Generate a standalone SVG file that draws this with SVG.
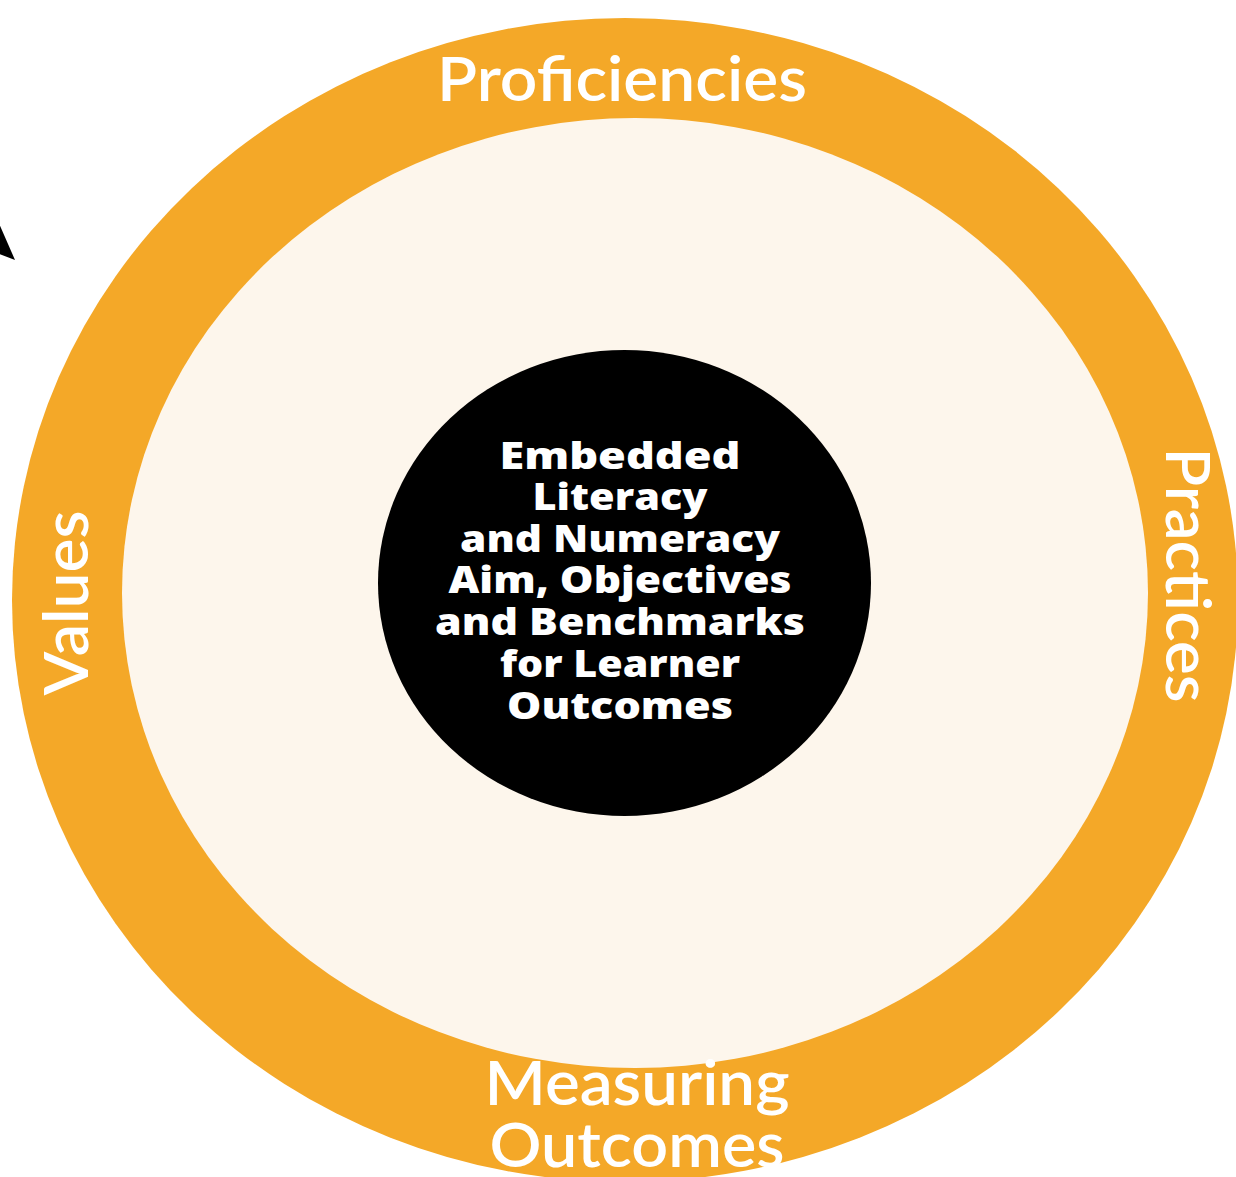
<svg xmlns="http://www.w3.org/2000/svg" width="1236" height="1177" viewBox="0 0 1236 1177">
<style>
.lbl{font-family:Lato,"Liberation Sans",sans-serif;font-weight:600;font-size:62px;fill:#ffffff;text-anchor:middle}
.ctr{font-family:"Open Sans",Lato,"Liberation Sans",sans-serif;font-weight:800;font-size:37px;fill:#ffffff;text-anchor:middle}
</style>
<rect width="1236" height="1177" fill="#ffffff"/>
<g id="outer-ring">
<ellipse cx="625" cy="600" rx="613" ry="582" fill="#F4A828"/>
</g>
<g id="inner-area">
<ellipse cx="635" cy="593" rx="513" ry="475" fill="#FDF6EC"/>
</g>
<g id="connectors">
<polygon points="-6,212 15,260 -6,252" fill="#000000"/>
</g>
<g id="core">
<ellipse cx="624.5" cy="583" rx="246.5" ry="233" fill="#000000"/>
<text class="ctr" x="620" y="469" textLength="241" lengthAdjust="spacingAndGlyphs">Embedded</text>
<text class="ctr" x="620" y="510" textLength="175" lengthAdjust="spacingAndGlyphs">Literacy</text>
<text class="ctr" x="620" y="552" textLength="320" lengthAdjust="spacingAndGlyphs">and Numeracy</text>
<text class="ctr" x="620" y="593" textLength="343" lengthAdjust="spacingAndGlyphs">Aim, Objectives</text>
<text class="ctr" x="620" y="635" textLength="370" lengthAdjust="spacingAndGlyphs">and Benchmarks</text>
<text class="ctr" x="620" y="677" textLength="240" lengthAdjust="spacingAndGlyphs">for Learner</text>
<text class="ctr" x="620" y="719" textLength="226" lengthAdjust="spacingAndGlyphs">Outcomes</text>
</g>
<g id="proficiencies">
<text class="lbl" x="622" y="101" textLength="370" lengthAdjust="spacingAndGlyphs">Proficiencies</text>
</g>
<g id="values">
<text class="lbl" transform="translate(88,603) rotate(-90)" x="0" y="0" textLength="185" lengthAdjust="spacingAndGlyphs">Values</text>
</g>
<g id="practices">
<text class="lbl" transform="translate(1166,575) rotate(90)" x="0" y="0" textLength="255" lengthAdjust="spacingAndGlyphs">Practices</text>
</g>
<g id="measuring-outcomes">
<text class="lbl" x="637" y="1105" textLength="305" lengthAdjust="spacingAndGlyphs">Measuring</text>
<text class="lbl" x="637" y="1167" textLength="295" lengthAdjust="spacingAndGlyphs">Outcomes</text>
</g>
</svg>
